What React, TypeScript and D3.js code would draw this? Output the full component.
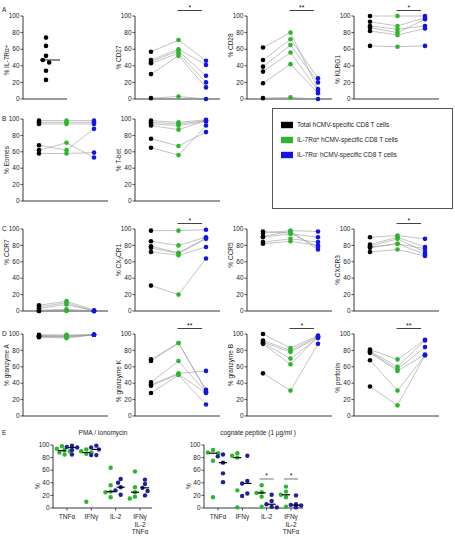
import React from "react";
import * as d3 from "d3";

const FONT = "Liberation Sans, Arial, sans-serif";
const GROUPS = ["total", "pos", "neg"];
const COL: Record<string, string> = { total: "#000000", pos: "#2db52d", neg: "#1414e6" };
const E_COL: Record<string, string> = { pos: "#2db52d", neg: "#1f1f9e" };
const Y_TICKS = [0, 20, 40, 60, 80, 100];

// ---- Data (percent) ----
const IL7RA = [74, 64, 52, 47, 44, 34, 23];

const CD27_T = [57, 47, 45, 43, 30, 1];
const CD27_P = [71, 60, 58, 55, 52, 3];
const CD27_N = [46, 41, 28, 20, 14, 0];

const CD28_T = [62, 47, 39, 33, 19, 1];
const CD28_P = [80, 72, 65, 56, 42, 2];
const CD28_N = [12, 25, 20, 10, 7, 0];

const KLRG1_T = [100, 93, 88, 86, 82, 64];
const KLRG1_P = [100, 88, 84, 80, 77, 63];
const KLRG1_N = [100, 98, 88, 96, 85, 64];

const EOMES_T = [98, 96, 94, 68, 62, 58];
const EOMES_P = [98, 96, 94, 62, 71, 58];
const EOMES_N = [98, 96, 94, 88, 53, 59];

const TBET_T = [98, 96, 94, 92, 76, 65];
const TBET_P = [96, 94, 92, 87, 67, 56];
const TBET_N = [99, 98, 97, 98, 84, 92];

const CCR7_T = [7, 5, 3, 1, 0, 0];
const CCR7_P = [12, 10, 8, 2, 1, 0];
const CCR7_N = [1, 0, 0, 0, 0, 0];

const CX3CR1_T = [98, 85, 79, 77, 72, 31];
const CX3CR1_P = [98, 80, 71, 70, 68, 20];
const CX3CR1_N = [99, 90, 89, 88, 78, 64];

const CCR5_T = [97, 95, 91, 90, 84, 82];
const CCR5_P = [95, 98, 97, 94, 88, 85];
const CCR5_N = [78, 97, 75, 90, 84, 80];

const CXCR3_T = [90, 81, 79, 78, 77, 72];
const CXCR3_P = [92, 90, 88, 82, 82, 75];
const CXCR3_N = [88, 78, 72, 76, 69, 67];

const GZMA_T = [99, 98, 97, 96, 98, 97];
const GZMA_P = [99, 97, 96, 95, 98, 97];
const GZMA_N = [99, 99, 99, 99, 99, 99];

const GZMK_T = [69, 67, 41, 38, 37, 28];
const GZMK_P = [89, 89, 67, 52, 51, 50];
const GZMK_N = [32, 30, 29, 55, 28, 14];

const GZMB_T = [100, 92, 90, 89, 88, 52];
const GZMB_P = [83, 80, 78, 70, 63, 31];
const GZMB_N = [98, 97, 96, 95, 97, 88];

const PERF_T = [81, 79, 78, 77, 68, 36];
const PERF_P = [69, 60, 57, 55, 31, 13];
const PERF_N = [93, 92, 84, 75, 74, 74];

// Panel E
const E_CATS = ["TNFα", "IFNγ", "IL-2", "IFNγ\nIL-2\nTNFα"];
const PMA_POS = [
  [98, 94, 92, 90, 88, 85],
  [93, 90, 88, 86, 10],
  [64, 36, 26, 25, 17],
  [58, 33, 25, 18, 15],
];
const PMA_NEG = [
  [99, 97, 96, 92, 85],
  [99, 96, 93, 84, 84],
  [46, 40, 33, 28, 21],
  [45, 38, 32, 27, 20],
];
const COG_POS = [
  [92, 88, 87, 75, 17],
  [87, 83, 80, 28, 1],
  [36, 25, 24, 18, 2],
  [34, 26, 21, 17, 2],
];
const COG_NEG = [
  [85, 82, 72, 55, 41],
  [83, 43, 39, 23, 19],
  [21, 11, 6, 2, 1],
  [20, 6, 5, 4, 2, 1],
];
const COG_SIG = [false, false, true, true];

const LEGEND = [
  { key: "total", label: "Total hCMV-specific CD8 T cells", sup: "" },
  { key: "pos", label: "IL-7Rα", sup: "+", rest: " hCMV-specific CD8 T cells" },
  { key: "neg", label: "IL-7Rα", sup: "-", rest: " hCMV-specific CD8 T cells" },
];

const ROWS = [
  { top: 16, bot: 99 },
  { top: 119, bot: 201 },
  { top: 229, bot: 311 },
  { top: 334, bot: 416 },
];
const COLS = [23, 135, 247, 354];

type PanelDef = {
  row: number; col: number; title: React.ReactNode; tc?: number;
  t: number[]; p: number[]; n: number[]; sig?: string;
};

const PANELS: PanelDef[] = [
  { row: 0, col: 1, title: "% CD27", t: CD27_T, p: CD27_P, n: CD27_N, sig: "*" },
  { row: 0, col: 2, title: "% CD28", tc: -12, t: CD28_T, p: CD28_P, n: CD28_N, sig: "**" },
  { row: 0, col: 3, title: "% KLRG1", tc: 12, t: KLRG1_T, p: KLRG1_P, n: KLRG1_N, sig: "*" },
  { row: 1, col: 0, title: "% Eomes", t: EOMES_T, p: EOMES_P, n: EOMES_N },
  { row: 1, col: 1, title: "% T-bet", t: TBET_T, p: TBET_P, n: TBET_N },
  { row: 2, col: 0, title: "% CCR7", tc: -18, t: CCR7_T, p: CCR7_P, n: CCR7_N },
  { row: 2, col: 1, title: "CX3CR1", tc: -10, t: CX3CR1_T, p: CX3CR1_P, n: CX3CR1_N, sig: "*" },
  { row: 2, col: 2, title: "% CCR5", tc: -15, t: CCR5_T, p: CCR5_P, n: CCR5_N },
  { row: 2, col: 3, title: "% CXCR3", tc: 0, t: CXCR3_T, p: CXCR3_P, n: CXCR3_N, sig: "*" },
  { row: 3, col: 0, title: "% granzyme A", tc: -10, t: GZMA_T, p: GZMA_P, n: GZMA_N },
  { row: 3, col: 1, title: "% granzyme K", tc: 6, t: GZMK_T, p: GZMK_P, n: GZMK_N, sig: "**" },
  { row: 3, col: 2, title: "% granzyme B", tc: -10, t: GZMB_T, p: GZMB_P, n: GZMB_N, sig: "*" },
  { row: 3, col: 3, title: "% perforin", tc: 3, t: PERF_T, p: PERF_P, n: PERF_N, sig: "**" },
];

const AXIS = "#222";
const FS = 6.5;

function YAxis({ x, y }: { x: number; y: d3.ScaleLinear<number, number> }) {
  const [b, t] = y.range();
  return (
    <g>
      <line x1={x} x2={x} y1={b} y2={t} stroke={AXIS} strokeWidth={0.9} />
      {Y_TICKS.map((v) => (
        <g key={v}>
          <line x1={x - 2.5} x2={x} y1={y(v)} y2={y(v)} stroke={AXIS} strokeWidth={0.8} />
          <text x={x - 3.5} y={y(v)} dy="0.35em" textAnchor="end" fontSize={FS} fill="#222">{v}</text>
        </g>
      ))}
    </g>
  );
}

function Title({ x, cy, children }: { x: number; cy: number; children: React.ReactNode }) {
  return (
    <text transform={`translate(${x},${cy}) rotate(-90)`} textAnchor="middle" fontSize={FS} fill="#222">
      {children}
    </text>
  );
}

function DonorPanel({ def }: { def: PanelDef }) {
  const r = ROWS[def.row];
  const ax = COLS[def.col];
  const y = d3.scaleLinear().domain([0, 100]).range([r.bot, r.top]);
  const x = d3.scalePoint<string>().domain(GROUPS).range([ax + 16, ax + 71]);
  const sets: Record<string, number[]> = { total: def.t, pos: def.p, neg: def.n };
  const line = d3.line<[string, number]>().x((d) => x(d[0])!).y((d) => y(d[1]));
  const cy = (r.top + r.bot) / 2 + (def.tc || 0);
  const title = def.title === "CX3CR1"
    ? (<>% CX<tspan fontSize={4.5} dy={1.5}>3</tspan><tspan dy={-1.5}>CR1</tspan></>)
    : def.title;
  return (
    <g>
      <YAxis x={ax} y={y} />
      <line x1={ax} x2={ax + 85} y1={r.bot} y2={r.bot} stroke={AXIS} strokeWidth={0.9} />
      <Title x={ax - 14} cy={cy}>{title}</Title>
      {def.t.map((_, i) => (
        <path key={i} d={line(GROUPS.map((g) => [g, sets[g][i]] as [string, number]))!}
          fill="none" stroke="#9a9a9a" strokeWidth={0.6} />
      ))}
      {GROUPS.map((g) => sets[g].map((v, i) => (
        <circle key={g + i} cx={x(g)} cy={y(v)} r={2.3} fill={COL[g]} />
      )))}
      {def.sig && (
        <g>
          <line x1={x("pos")! - 1} x2={x("neg")! - 4} y1={r.top - 5.5} y2={r.top - 5.5} stroke="#111" strokeWidth={0.8} />
          <text x={(x("pos")! + x("neg")! - 5) / 2} y={r.top - 6.5} textAnchor="middle" fontSize={7} fill="#111">{def.sig}</text>
        </g>
      )}
    </g>
  );
}

function IL7Panel() {
  const r = ROWS[0];
  const ax = COLS[0];
  const y = d3.scaleLinear().domain([0, 100]).range([r.bot, r.top]);
  const cx = ax + 23;
  const med = d3.median(IL7RA)!;
  const pts = swarm(IL7RA, y, cx, 3.2, 4.2);
  return (
    <g>
      <YAxis x={ax} y={y} />
      <line x1={ax} x2={ax + 44} y1={r.bot} y2={r.bot} stroke={AXIS} strokeWidth={0.9} />
      <Title x={ax - 14} cy={60}>% IL-7Rα+</Title>
      <line x1={cx - 6} x2={cx + 14} y1={y(med)} y2={y(med)} stroke="#000" strokeWidth={0.9} />
      {pts.map((p, i) => <circle key={i} cx={p[0]} cy={p[1]} r={2.3} fill="#000" />)}
    </g>
  );
}

function swarm(vals: number[], y: (v: number) => number, cx: number, step: number, minD: number) {
  const placed: [number, number][] = [];
  const sorted = [...vals].sort((a, b) => b - a);
  const cands = [0, -step, step, -2 * step, 2 * step, -3 * step, 3 * step];
  for (const v of sorted) {
    const py = y(v);
    let px = cx;
    for (const c of cands) {
      const tx = cx + c;
      if (placed.every((p) => Math.hypot(p[0] - tx, p[1] - py) >= minD)) { px = tx; break; }
    }
    placed.push([px, py]);
  }
  return placed;
}

function EPanel({ ax, title, titleX, pos, neg, sig }: {
  ax: number; title: React.ReactNode; titleX: number; pos: number[][]; neg: number[][]; sig?: boolean[];
}) {
  const y = d3.scaleLinear().domain([0, 100]).range([508, 445]);
  const x = d3.scalePoint<string>().domain(E_CATS).range([ax + 14, ax + 87]);
  return (
    <g>
      <YAxis x={ax} y={y} />
      <line x1={ax} x2={ax + 99} y1={508} y2={508} stroke={AXIS} strokeWidth={0.9} />
      <Title x={ax - 13} cy={486}>%</Title>
      <text x={titleX} y={433} dy="0.35em" textAnchor="middle" fontSize={FS} fill="#222">{title}</text>
      {E_CATS.map((c, ci) => {
        const cx = x(c)!;
        const gp = swarm(pos[ci], y, cx - 5, 2.6, 4.3);
        const gn = swarm(neg[ci], y, cx + 5, 2.6, 4.3);
        const mp = d3.median(pos[ci])!;
        const mn = d3.median(neg[ci])!;
        return (
          <g key={c}>
            <line x1={cx} x2={cx} y1={508} y2={510.5} stroke={AXIS} strokeWidth={0.8} />
            {c.split("\n").map((s, k) => (
              <text key={k} x={cx} y={517 + k * 7.5} dy="0.35em" textAnchor="middle" fontSize={FS} fill="#222">{s}</text>
            ))}
            {gp.map((p, i) => <circle key={"p" + i} cx={p[0]} cy={p[1]} r={2.2} fill={E_COL.pos} />)}
            {gn.map((p, i) => <circle key={"n" + i} cx={p[0]} cy={p[1]} r={2.2} fill={E_COL.neg} />)}
            <line x1={cx - 9} x2={cx - 1} y1={y(mp)} y2={y(mp)} stroke="#000" strokeWidth={1.2} />
            <line x1={cx + 1} x2={cx + 9} y1={y(mn)} y2={y(mn)} stroke="#000" strokeWidth={1.2} />
            {sig && sig[ci] && (
              <g>
                <line x1={cx - 7} x2={cx + 7} y1={479} y2={479} stroke="#555" strokeWidth={0.8} />
                <text x={cx} y={478} textAnchor="middle" fontSize={7} fill="#111">*</text>
              </g>
            )}
          </g>
        );
      })}
    </g>
  );
}

function Legend() {
  return (
    <g>
      <rect x={272.5} y={108.5} width={180} height={100} fill="none" stroke="#555" strokeWidth={1} />
      {LEGEND.map((l, i) => (
        <g key={l.key} transform={`translate(0,${125 + i * 15})`}>
          <rect x={281} y={-3.2} width={12} height={6.4} fill={COL[l.key]} />
          <text x={297} y={0} dy="0.35em" fontSize={FS} fill="#222">
            {l.label}
            {l.sup && <tspan fontSize={4.5} dy={-2.2}>{l.sup}</tspan>}
            {l.rest && <tspan dy={2.2}>{l.rest}</tspan>}
          </text>
        </g>
      ))}
    </g>
  );
}

export default function App() {
  const letters = [
    { t: "A", y: 10 }, { t: "B", y: 119 }, { t: "C", y: 229 }, { t: "D", y: 334 }, { t: "E", y: 433 },
  ];
  return (
    <svg width={455} height={540} style={{ position: "absolute", left: 0, top: 0, background: "#fff" }}
      fontFamily={FONT}>
      <rect x={0} y={0} width={455} height={540} fill="#fff" />
      {letters.map((l) => (
        <text key={l.t} x={2} y={l.y} dy="0.35em" fontSize={FS} fill="#222">{l.t}</text>
      ))}
      <IL7Panel />
      {PANELS.map((p, i) => <DonorPanel key={i} def={p} />)}
      <Legend />
      <EPanel ax={53} title="PMA / Ionomycin" titleX={103} pos={PMA_POS} neg={PMA_NEG} />
      <EPanel ax={204} title="cognate peptide (1 µg/ml )" titleX={258} pos={COG_POS} neg={COG_NEG} sig={COG_SIG} />
    </svg>
  );
}
